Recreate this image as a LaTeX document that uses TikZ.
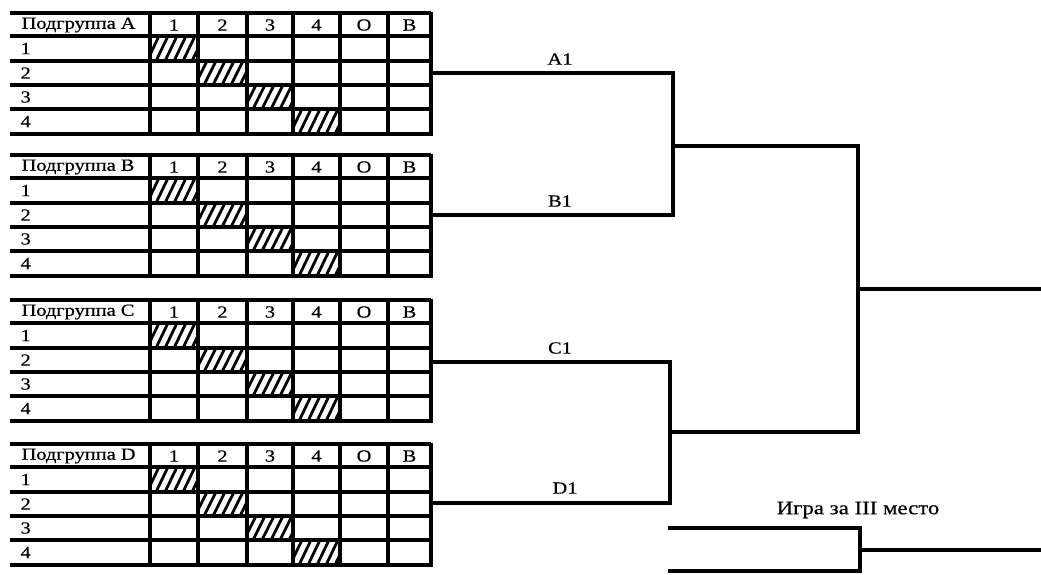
\documentclass[tikz,border=0pt]{standalone}
\usepackage{fontspec}
\setmainfont{Liberation Serif}[FakeStretch=1.2,FakeBold=0.6]
\begin{document}
\begin{tikzpicture}[x=1pt,y=-1pt,line width=3.2pt,
  lbl/.style={inner sep=0pt,font=\fontsize{17}{17}\selectfont},
  biglbl/.style={inner sep=0pt,font=\fontsize{19}{19}\selectfont},
  brk/.style={line width=3.4pt,line cap=rect},
  hatch/.style={line width=2.8pt}]
\useasboundingbox (0,0) rectangle (1041,574);
% group tables
\foreach \g/\yo in {A/13,B/155,C/300,D/444}{
  \foreach \dy in {0,23,48,72,96,121}
    \draw (10,{\yo+\dy}) -- (431,{\yo+\dy});
  \foreach \x in {150,198,247,293,340,388,431}
    \draw (\x,{\yo-1.5}) -- (\x,{\yo+122.5});
  \foreach \xa/\xb/\ya/\yb in {150/198/23/48,198/247/48/72,247/293/72/96,293/340/96/121}{
    \begin{scope}
      \clip (\xa,{\yo+\ya}) rectangle (\xb,{\yo+\yb});
      \foreach \k in {-30,-21,...,60}
        \draw[hatch] ({\xa+\k},{\yo+\yb}) -- ({\xa+\k+12},{\yo+\ya});
    \end{scope}
  }
  \node[lbl,anchor=west] (h\g) at (20,{\yo+12}) {Подгруппа \g};
  \foreach \c/\xc in {1/174,2/222.5,3/270,4/316.5,О/364,В/409.5}
    \node[lbl] (h\g\c) at (\xc,{\yo+12}) {\c};
  \foreach \r/\ym in {1/35.5,2/60,3/84,4/108.5}
    \node[lbl,anchor=west] (r\g\r) at (19,{\yo+\ym}) {\r};
}
% bracket coordinates
\coordinate (a1s) at (431,73);  \coordinate (a1e) at (673,73);
\coordinate (b1s) at (431,215); \coordinate (b1e) at (673,215);
\coordinate (ab) at (673,146);  \coordinate (abe) at (858,146);
\coordinate (c1s) at (431,362); \coordinate (c1e) at (670,362);
\coordinate (d1s) at (431,503); \coordinate (d1e) at (670,503);
\coordinate (cd) at (670,432);  \coordinate (cde) at (858,432);
\coordinate (fin) at (858,289); \coordinate (fine) at (1041,289);
\coordinate (t1s) at (670,528); \coordinate (t1e) at (860,528);
\coordinate (t2s) at (670,571); \coordinate (t2e) at (860,571);
\coordinate (tm) at (860,550);  \coordinate (tme) at (1041,550);
% bracket lines
\draw[brk] (a1s) -- (a1e) -- (b1e) -- (b1s);
\draw[brk] (ab) -- (abe);
\draw[brk] (c1s) -- (c1e) -- (d1e) -- (d1s);
\draw[brk] (cd) -- (cde);
\draw[brk] (abe) -- (cde);
\draw[brk] (fin) -- (fine);
\draw[brk] (t1s) -- (t1e) -- (t2e) -- (t2s);
\draw[brk] (tm) -- (tme);
% labels
\node[lbl] (lA1) at (560,59) {A1};
\node[lbl] (lB1) at (560,201) {B1};
\node[lbl] (lC1) at (560,348) {C1};
\node[lbl] (lD1) at (565,488) {D1};
\node[biglbl] (l3) at (858,510) {Игра за III место};
\end{tikzpicture}
\end{document}
